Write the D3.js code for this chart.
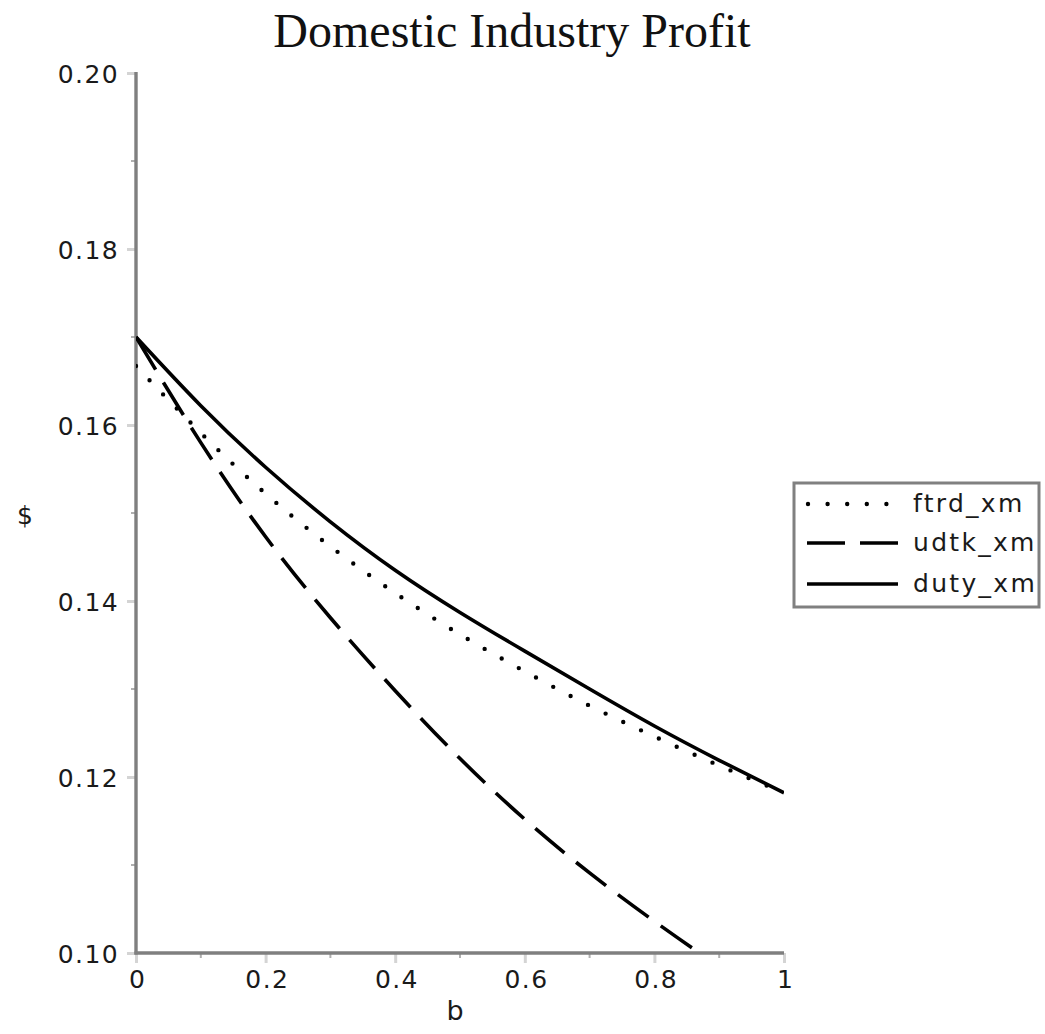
<!DOCTYPE html>
<html>
<head>
<meta charset="utf-8">
<script src="https://cdn.jsdelivr.net/npm/d3@7"></script>
<style>
  html, body { margin: 0; padding: 0; background: #fff; }
  svg { display: block; }
  .tick-label { font-family: "DejaVu Sans", sans-serif; font-size: 25px; fill: #1a1a1a; letter-spacing: 1.4px; }
  .legend-label { font-family: "DejaVu Sans", sans-serif; font-size: 25px; fill: #1a1a1a; letter-spacing: 2.3px; }
</style>
</head>
<body>
<svg id="chart" width="1045" height="1034"></svg>
<script>
// Domestic industry profit as a function of b, for three policy regimes
const bValues = [0, 0.1, 0.2, 0.3, 0.4, 0.5, 0.6, 0.7, 0.8, 0.9, 1.0];
const ftrdValues = [0.1667, 0.1591, 0.1522, 0.1462, 0.1409, 0.1362, 0.1320, 0.1281, 0.1246, 0.1213, 0.1182];
const udtkValues = [0.1700, 0.1580, 0.1473, 0.1381, 0.1298, 0.1221, 0.1152, 0.1091, 0.1036, 0.0985, 0.0938];
const dutyValues = [0.1700, 0.1622, 0.1552, 0.1490, 0.1435, 0.1387, 0.1343, 0.1300, 0.1258, 0.1219, 0.1182];

const seriesNames = ["ftrd_xm", "udtk_xm", "duty_xm"];
const xTicks = [0, 0.2, 0.4, 0.6, 0.8, 1];
const xMinorTicks = [0.1, 0.3, 0.5, 0.7, 0.9];
const yTicks = [0.10, 0.12, 0.14, 0.16, 0.18, 0.20];
const yMinorTicks = [0.11, 0.13, 0.15, 0.17, 0.19];

const titleText = "Domestic Industry Profit";
const xLabel = "b";
const yLabel = "$";

const series = [
  { name: seriesNames[0], values: ftrdValues, dash: "0 19.6", cap: "round", width: 4.4 },
  { name: seriesNames[1], values: udtkValues, dash: "38 15", cap: "butt", width: 3.6 },
  { name: seriesNames[2], values: dutyValues, dash: null, cap: "butt", width: 3.6 }
];

const svg = d3.select("#chart");
const plot = { left: 136, right: 784, top: 73, bottom: 953 };

const x = d3.scaleLinear().domain([0, 1]).range([plot.left, plot.right]);
const y = d3.scaleLinear().domain([0.10, 0.20]).range([plot.bottom, plot.top]);

// Title
svg.append("text")
  .attr("x", 512).attr("y", 47)
  .attr("text-anchor", "middle")
  .style("font-family", "'Liberation Serif', 'Times New Roman', serif")
  .style("font-size", "48px")
  .style("fill", "#111")
  .text(titleText);

// Clip the curves to the plotting area
svg.append("defs").append("clipPath").attr("id", "plot-clip")
  .append("rect")
  .attr("x", plot.left).attr("y", plot.top)
  .attr("width", plot.right - plot.left)
  .attr("height", plot.bottom - plot.top);

// Axes
const xAxis = d3.axisBottom(x).tickValues(xTicks).tickSize(10).tickPadding(7)
  .tickFormat(d => d3.format("~g")(d));
const yAxis = d3.axisLeft(y).tickValues(yTicks).tickSize(9).tickPadding(8)
  .tickFormat(d3.format(".2f"));

const gx = svg.append("g").attr("transform", `translate(0,${plot.bottom})`).call(xAxis);
const gy = svg.append("g").attr("transform", `translate(${plot.left},0)`).call(yAxis);

[gx, gy].forEach(g => {
  g.select(".domain").remove();
  g.selectAll(".tick line").attr("stroke", "#d4d4d4").attr("stroke-width", 3);
  g.selectAll(".tick text").attr("class", "tick-label").attr("fill", "#1a1a1a");
});
gy.selectAll(".tick text").attr("dy", "0.36em");
gx.selectAll(".tick text").attr("dx", "0.05em");

// Minor ticks
svg.append("g").selectAll("line").data(xMinorTicks).join("line")
  .attr("x1", d => x(d)).attr("x2", d => x(d))
  .attr("y1", plot.bottom).attr("y2", plot.bottom + 5)
  .attr("stroke", "#b0b0b0").attr("stroke-width", 2);
svg.append("g").selectAll("line").data(yMinorTicks).join("line")
  .attr("y1", d => y(d)).attr("y2", d => y(d))
  .attr("x1", plot.left).attr("x2", plot.left - 5)
  .attr("stroke", "#b0b0b0").attr("stroke-width", 2);

// Axis lines
svg.append("line")
  .attr("x1", plot.left).attr("x2", plot.left)
  .attr("y1", plot.top - 1).attr("y2", plot.bottom + 1.5)
  .attr("stroke", "#7f7f7f").attr("stroke-width", 3.4);
svg.append("line")
  .attr("x1", plot.left - 1.5).attr("x2", plot.right)
  .attr("y1", plot.bottom).attr("y2", plot.bottom)
  .attr("stroke", "#7f7f7f").attr("stroke-width", 3.4);

// Axis labels
svg.append("text")
  .attr("x", 455).attr("y", 1020)
  .attr("text-anchor", "middle")
  .attr("class", "tick-label")
  .style("font-size", "27px")
  .style("letter-spacing", "0px")
  .text(xLabel);
svg.append("text")
  .attr("x", 25).attr("y", 524)
  .attr("text-anchor", "middle")
  .attr("class", "tick-label")
  .style("font-size", "25px")
  .style("letter-spacing", "0px")
  .text(yLabel);

// Curves
const line = d3.line()
  .x((d, i) => x(bValues[i]))
  .y(d => y(d))
  .curve(d3.curveNatural);

const curves = svg.append("g").attr("clip-path", "url(#plot-clip)");
series.forEach(s => {
  curves.append("path")
    .attr("d", line(s.values))
    .attr("fill", "none")
    .attr("stroke", "#000")
    .attr("stroke-width", s.width)
    .attr("stroke-linecap", s.cap)
    .attr("stroke-dasharray", s.dash);
});

// Legend
const legend = svg.append("g");
legend.append("rect")
  .attr("x", 794).attr("y", 483)
  .attr("width", 245).attr("height", 124)
  .attr("fill", "#fff")
  .attr("stroke", "#808080").attr("stroke-width", 3);

const rowY = [504, 543, 584];
series.forEach((s, i) => {
  const dotted = s.dash && s.cap === "round";
  legend.append("line")
    .attr("x1", dotted ? 808 : 807)
    .attr("x2", dotted ? 890 : 898)
    .attr("y1", rowY[i]).attr("y2", rowY[i])
    .attr("stroke", "#000")
    .attr("stroke-width", s.width)
    .attr("stroke-linecap", s.cap)
    .attr("stroke-dasharray", s.dash);
  legend.append("text")
    .attr("x", 913).attr("y", rowY[i])
    .attr("dy", "0.32em")
    .attr("class", "legend-label")
    .text(s.name);
});
</script>
</body>
</html>
